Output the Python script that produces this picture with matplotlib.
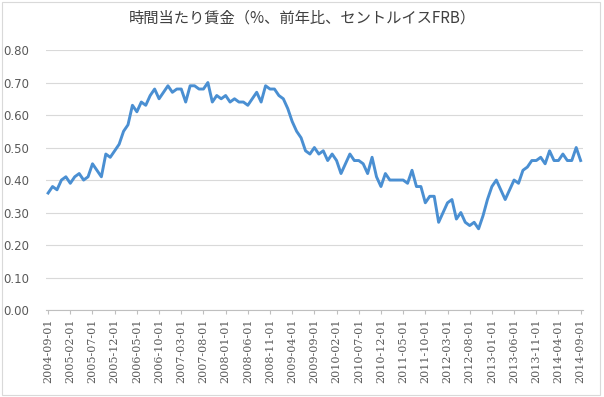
import matplotlib
matplotlib.use("Agg")
import matplotlib.pyplot as plt
import pandas as pd
from matplotlib.patches import Rectangle

plt.rcParams['font.family'] = ['Noto Sans CJK JP', 'DejaVu Sans']

title = "時間当たり賃金（%、前年比、セントルイスFRB）"
dates = pd.date_range("2004-09-01", "2014-09-01", freq="MS")
values = [
    0.36, 0.38, 0.37, 0.40, 0.41, 0.39, 0.41, 0.42, 0.40, 0.41,
    0.45, 0.43, 0.41, 0.48, 0.47, 0.49, 0.51, 0.55, 0.57, 0.63,
    0.61, 0.64, 0.63, 0.66, 0.68, 0.65, 0.67, 0.69, 0.67, 0.68,
    0.68, 0.64, 0.69, 0.69, 0.68, 0.68, 0.70, 0.64, 0.66, 0.65,
    0.66, 0.64, 0.65, 0.64, 0.64, 0.63, 0.65, 0.67, 0.64, 0.69,
    0.68, 0.68, 0.66, 0.65, 0.62, 0.58, 0.55, 0.53, 0.49, 0.48,
    0.50, 0.48, 0.49, 0.46, 0.48, 0.46, 0.42, 0.45, 0.48, 0.46,
    0.46, 0.45, 0.42, 0.47, 0.41, 0.38, 0.42, 0.40, 0.40, 0.40,
    0.40, 0.39, 0.43, 0.38, 0.38, 0.33, 0.35, 0.35, 0.27, 0.30,
    0.33, 0.34, 0.28, 0.30, 0.27, 0.26, 0.27, 0.25, 0.29, 0.34,
    0.38, 0.40, 0.37, 0.34, 0.37, 0.40, 0.39, 0.43, 0.44, 0.46,
    0.46, 0.47, 0.45, 0.49, 0.46, 0.46, 0.48, 0.46, 0.46, 0.50,
    0.46,
]
labels = [d.strftime("%Y-%m-%d") for d in dates]
yticks = [0.0, 0.1, 0.2, 0.3, 0.4, 0.5, 0.6, 0.7, 0.8]

fig = plt.figure(figsize=(6.04, 3.97), dpi=100)
ax = fig.add_axes([0.076, 0.219, 0.889, 0.655])
x = list(range(len(values)))
ax.plot(x, values, color="#4A8FD2", linewidth=2.1, solid_joinstyle="round", zorder=3)

ax.set_ylim(0, 0.8)
ax.set_xlim(-0.5, 120.5)
ax.set_yticks(yticks)
ax.set_yticklabels([f"{v:.2f}" for v in yticks], fontsize=8.5, color="#595959",
                   family=['DejaVu Sans'])
ax.yaxis.grid(True, color="#D9D9D9", linewidth=0.8)
ax.set_axisbelow(True)
ax.tick_params(axis='y', length=0, pad=12)

tick_idx = list(range(0, len(values), 5))
ax.set_xticks(tick_idx)
ax.set_xticklabels([labels[i] for i in tick_idx], rotation=90, fontsize=8,
                   color="#595959", family=['DejaVu Serif'])
ax.tick_params(axis='x', length=3, color="#BFBFBF", pad=3)

for s in ['top', 'right', 'left']:
    ax.spines[s].set_visible(False)
ax.spines['bottom'].set_color("#BFBFBF")
ax.spines['bottom'].set_linewidth(0.8)

fig.text(0.5, 0.955, title, ha='center', va='center', fontsize=11, color="#404040")

fig.patches.append(Rectangle((0.004, 0.006), 0.99, 0.988, transform=fig.transFigure,
                             fill=False, edgecolor="#D9D9D9", linewidth=0.8))

fig.savefig("out.png", dpi=100)
